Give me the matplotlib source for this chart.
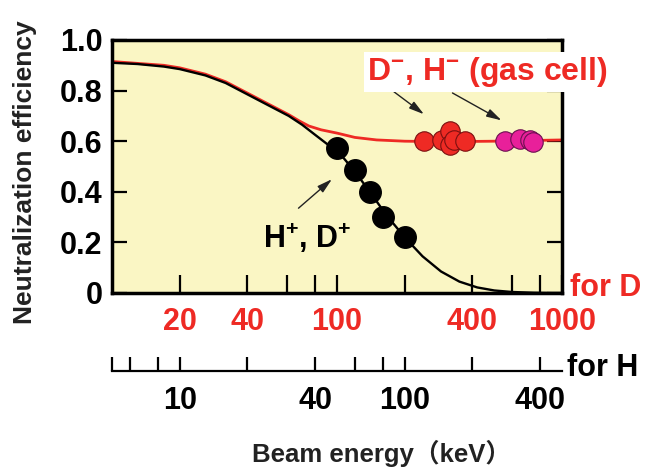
import matplotlib
matplotlib.use('Agg')
import matplotlib.pyplot as plt
import numpy as np

plt.rcParams['font.family'] = ['Liberation Sans', 'DejaVu Sans']
plt.rcParams['font.weight'] = 'bold'
plt.rcParams['mathtext.fontset'] = 'custom'
plt.rcParams['mathtext.rm'] = 'Liberation Sans:bold'
plt.rcParams['mathtext.bf'] = 'Liberation Sans:bold'
plt.rcParams['mathtext.default'] = 'rm'

# beam energy for D (keV) and neutralization efficiency
pos_curve_e = [10, 13, 17, 20, 26, 32, 40, 50, 61, 70, 80, 90, 100, 120, 140, 165, 200, 240,
               290, 350, 420, 500, 600, 750, 900, 1000]
pos_curve_eff = [0.91, 0.905, 0.895, 0.885, 0.86, 0.83, 0.785, 0.74, 0.70, 0.665, 0.625, 0.59,
                 0.565, 0.48, 0.40, 0.31, 0.22, 0.145, 0.085, 0.045, 0.022, 0.01, 0.004, 0.001,
                 0.0, 0.0]
neg_curve_e = [10, 17, 20, 26, 32, 40, 50, 61, 68, 75, 85, 100, 120, 150, 200, 300, 500, 1000]
neg_curve_eff = [0.915, 0.9, 0.89, 0.865, 0.835, 0.79, 0.745, 0.705, 0.68, 0.66, 0.645, 0.632,
                 0.615, 0.605, 0.60, 0.598, 0.60, 0.605]

pos_pts_e = [100, 120, 140, 160, 200]
pos_pts_eff = [0.572, 0.486, 0.40, 0.302, 0.223]
neg_d_e = [244, 292, 318, 318, 330, 370]
neg_d_eff = [0.602, 0.605, 0.64, 0.585, 0.605, 0.602]
neg_h_e = [558, 650, 721, 743]
neg_h_eff = [0.602, 0.607, 0.605, 0.598]

d_ticks = [20, 40, 60, 80, 100, 200, 400, 600, 800, 1000]
d_labels = ['20', '40', '', '', '100', '', '400', '', '', '1000']
h_ticks = [5, 6, 8, 10, 20, 40, 60, 80, 100, 200, 400]
h_labels = ['', '', '', '10', '', '40', '', '', '100', '', '400']
y_ticks = [0, 0.2, 0.4, 0.6, 0.8, 1.0]
y_labels = ['0', '0.2', '0.4', '0.6', '0.8', '1.0']

red = '#ee2a24'
magenta = '#e8209a'

W, H = 645, 470
fig = plt.figure(figsize=(W / 100, H / 100), dpi=100)
ax = fig.add_axes([112 / W, 1 - 293 / H, 450 / W, 253 / H])
ax.set_facecolor('#faf6c4')
ax.set_xscale('log')
ax.set_xlim(10, 1000)
ax.set_ylim(0, 1.0)

ax.plot(neg_curve_e, neg_curve_eff, color=red, lw=2.0, zorder=2)
ax.plot(pos_curve_e, pos_curve_eff, color='black', lw=1.7, zorder=3)
ax.plot(pos_pts_e, pos_pts_eff, 'o', ms=15.5, color='black', zorder=4)
ax.plot(neg_d_e, neg_d_eff, 'o', ms=14, mfc=red, mec='#7a1010', mew=0.8, zorder=4)
ax.plot(neg_h_e, neg_h_eff, 'o', ms=14, mfc=magenta, mec='#6a1050', mew=0.8, zorder=4)

arrow = dict(arrowstyle='-|>,head_length=0.9,head_width=0.25', color='#222222', lw=1.0)
ax.annotate('', xy=(249, 0.70), xytext=(175, 0.802), arrowprops=arrow)
ax.annotate('', xy=(552, 0.677), xytext=(318, 0.796), arrowprops=arrow)
ax.annotate('', xy=(97, 0.457), xytext=(66, 0.328), arrowprops=arrow)

ax.text(74, 0.217, 'H$^{+}$, D$^{+}$', fontsize=22, ha='center', va='center', zorder=6)
ax.text(136, 0.873, 'D$^{-}$, H$^{-}$ (gas cell)', fontsize=23, color=red, ha='left', va='center',
        zorder=10, bbox=dict(facecolor='white', edgecolor='none', pad=2))

for s in ax.spines.values():
    s.set_linewidth(2.5)
ax.set_xticks(d_ticks)
ax.set_xticklabels(d_labels, color=red, fontsize=22)
ax.xaxis.set_minor_locator(matplotlib.ticker.NullLocator())
ax.tick_params(axis='x', direction='in', length=13, width=1.6, pad=10)
ax.set_yticks(y_ticks)
ax.set_yticklabels(y_labels, fontsize=22)
ax.tick_params(axis='y', direction='in', length=11, width=1.6, pad=7, right=True)

# second energy axis for H
ax2 = fig.add_axes([112 / W, 1 - 371 / H, 450 / W, 0.001])
ax2.set_facecolor('none')
ax2.set_xscale('log')
ax2.set_xlim(5, 500)
for k in ['top', 'left', 'right']:
    ax2.spines[k].set_visible(False)
ax2.spines['bottom'].set_linewidth(1.6)
ax2.set_yticks([])
ax2.set_xticks(h_ticks)
ax2.set_xticklabels(h_labels, fontsize=22)
ax2.xaxis.set_minor_locator(matplotlib.ticker.NullLocator())
ax2.tick_params(axis='x', direction='in', length=10, width=1.6, pad=11)

fig.text(570 / W, 1 - 288 / H, 'for D', color=red, fontsize=22, ha='left', va='center')
fig.text(567 / W, 1 - 368 / H, 'for H', fontsize=22, ha='left', va='center')
fig.text(25 / W, 1 - 172 / H, 'Neutralization efficiency', fontsize=19, rotation=90,
         ha='center', va='center', color='#222222')
fig.text(252 / W, 1 - 453 / H, 'Beam energy（keV）', fontsize=18.5, ha='left', va='center',
         color='#222222', family=['Liberation Sans', 'Noto Sans CJK JP'])

fig.savefig('out.png', dpi=100)
